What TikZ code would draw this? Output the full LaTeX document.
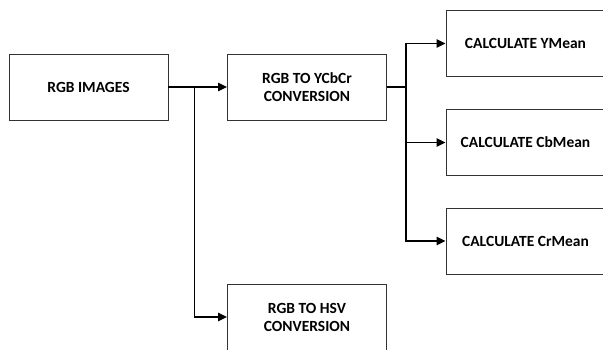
\documentclass[tikz,border=0pt]{standalone}
\usepackage{fontspec}
\setmainfont{Carlito}
\usetikzlibrary{arrows.meta}
\begin{document}
\begin{tikzpicture}[x=1pt,y=-1pt,
  box/.style={draw=black!80, line width=0.9pt, minimum width=159pt, minimum height=66pt,
    inner sep=0pt, align=center, font=\fontsize{15.5}{18}\selectfont\bfseries},
  conn/.style={line width=1.4pt, black},
  arr/.style={conn, -{Triangle[length=9pt,width=8.5pt]}}]
\useasboundingbox (0,0) rectangle (603,349);
\clip (0,0) rectangle (603,349);
\fill[white] (0,0) rectangle (603,349);
\node[box] (rgb) at (88.5,87) {RGB IMAGES};
\node[box] (ycc) at (307,87) {RGB TO YCbCr\\CONVERSION};
\node[box] (hsv) at (307,317) {RGB TO HSV\\CONVERSION};
\node[box] (ym) at (525.5,43.5) {CALCULATE YMean};
\node[box] (cb) at (525.5,142.5) {CALCULATE CbMean};
\node[box] (cr) at (525.5,241) {CALCULATE CrMean};
\coordinate (j1) at (194.5,87);
\coordinate (j2) at (406,87);
\draw[arr] (rgb.east) -- (ycc.west);
\draw[arr] (j1) |- (hsv.west);
\draw[conn] (ycc.east) -- (j2);
\draw[arr] (j2) |- (ym.west);
\draw[arr] (j2) |- (cb.west);
\draw[arr] (j2) |- (cr.west);
\end{tikzpicture}
\end{document}
